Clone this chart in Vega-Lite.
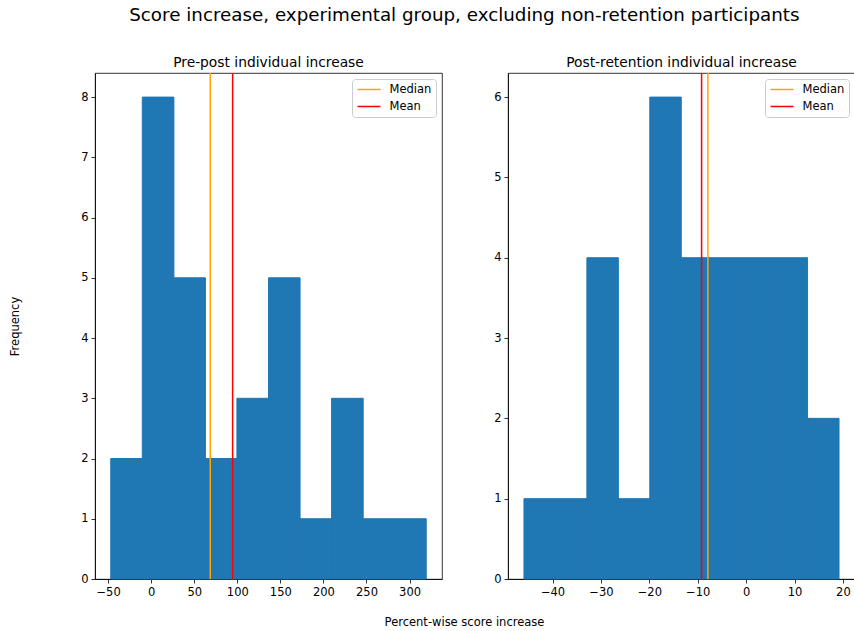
{
  "$schema": "https://vega.github.io/schema/vega-lite/v6.json",
  "background": "white",
  "padding": {"left": 9, "top": 5, "right": 0, "bottom": 5},
  "bounds": "flush",
  "spacing": 66,
  "title": {"text": "Score increase, experimental group, excluding non-retention participants", "fontSize": 18.3, "font": "DejaVu Sans", "fontWeight": "normal", "color": "black", "anchor": "middle", "dx": 32, "offset": 31},
  "datasets": {
    "pre": [
      {"start": -46.9, "end": -10.3, "count": 2},
      {"start": -10.3, "end": 26.4, "count": 8},
      {"start": 26.4, "end": 63.0, "count": 5},
      {"start": 63.0, "end": 99.6, "count": 2},
      {"start": 99.6, "end": 136.3, "count": 3},
      {"start": 136.3, "end": 172.9, "count": 5},
      {"start": 172.9, "end": 209.5, "count": 1},
      {"start": 209.5, "end": 246.2, "count": 3},
      {"start": 246.2, "end": 282.8, "count": 1},
      {"start": 282.8, "end": 319.4, "count": 1}
    ],
    "post": [
      {"start": -45.9, "end": -39.4, "count": 1},
      {"start": -39.4, "end": -32.9, "count": 1},
      {"start": -32.9, "end": -26.4, "count": 4},
      {"start": -26.4, "end": -19.9, "count": 1},
      {"start": -19.9, "end": -13.4, "count": 6},
      {"start": -13.4, "end": -6.8, "count": 4},
      {"start": -6.8, "end": -0.3, "count": 4},
      {"start": -0.3, "end": 6.2, "count": 4},
      {"start": 6.2, "end": 12.7, "count": 4},
      {"start": 12.7, "end": 19.2, "count": 2}
    ],
    "preStats": [
      {"stat": "Median", "value": 68.6},
      {"stat": "Mean", "value": 94.6}
    ],
    "postStats": [
      {"stat": "Median", "value": -7.9},
      {"stat": "Mean", "value": -9.2}
    ]
  },
  "config": {
    "font": "DejaVu Sans",
    "view": {"stroke": "black", "strokeWidth": 0.8},
    "axis": {"grid": false, "domainColor": "black", "domainWidth": 0.8, "tickColor": "black", "tickWidth": 0.8, "tickSize": 4, "labelFontSize": 11.5, "labelColor": "black", "labelPadding": 3, "titleFontSize": 11.5, "titleFontWeight": "normal", "titleColor": "black", "labelFont": "DejaVu Sans", "titleFont": "DejaVu Sans", "labelExpr": "replace(datum.label, '-', '−')"},
    "title": {"fontSize": 13.8, "fontWeight": "normal", "color": "black", "font": "DejaVu Sans", "offset": 2},
    "legend": {"orient": "top-right", "offset": 6, "fillColor": "white", "strokeColor": "#cccccc", "cornerRadius": 3, "padding": 4.5, "labelFontSize": 11.5, "labelColor": "black", "labelFont": "DejaVu Sans", "symbolType": "stroke", "symbolSize": 529, "symbolStrokeWidth": 1.5, "clipHeight": 12, "rowPadding": 5, "labelOffset": 8}
  },
  "resolve": {"scale": {"color": "independent"}, "legend": {"color": "independent"}},
  "hconcat": [
    {
      "width": 347,
      "height": 506,
      "title": "Pre-post individual increase",
      "layer": [
        {
          "data": {"name": "pre"},
          "mark": {"type": "bar", "color": "#1f77b4", "stroke": "#1f77b4", "strokeWidth": 1},
          "encoding": {
            "x": {"field": "start", "type": "quantitative", "scale": {"domain": [-65.2, 337.7], "nice": false, "zero": false}, "axis": {"values": [-50, 0, 50, 100, 150, 200, 250, 300], "title": "Percent-wise score increase", "titleX": 369, "titleAlign": "center", "titlePadding": 19}},
            "x2": {"field": "end"},
            "y": {"field": "count", "type": "quantitative", "scale": {"domain": [0, 8.4], "nice": false}, "axis": {"values": [0, 1, 2, 3, 4, 5, 6, 7, 8], "title": "Frequency", "titlePadding": 60}},
            "y2": {"datum": 0}
          }
        },
        {
          "data": {"name": "preStats"},
          "mark": {"type": "rule", "strokeWidth": 1.5},
          "encoding": {
            "x": {"field": "value", "type": "quantitative"},
            "color": {"field": "stat", "type": "nominal", "scale": {"domain": ["Median", "Mean"], "range": ["orange", "red"]}, "legend": {"title": null}}
          }
        }
      ]
    },
    {
      "width": 347,
      "height": 506,
      "title": "Post-retention individual increase",
      "layer": [
        {
          "data": {"name": "post"},
          "mark": {"type": "bar", "color": "#1f77b4", "stroke": "#1f77b4", "strokeWidth": 1},
          "encoding": {
            "x": {"field": "start", "type": "quantitative", "scale": {"domain": [-49.2, 22.5], "nice": false, "zero": false}, "axis": {"values": [-40, -30, -20, -10, 0, 10, 20], "title": null}},
            "x2": {"field": "end"},
            "y": {"field": "count", "type": "quantitative", "scale": {"domain": [0, 6.3], "nice": false}, "axis": {"values": [0, 1, 2, 3, 4, 5, 6], "title": null}},
            "y2": {"datum": 0}
          }
        },
        {
          "data": {"name": "postStats"},
          "mark": {"type": "rule", "strokeWidth": 1.5},
          "encoding": {
            "x": {"field": "value", "type": "quantitative"},
            "color": {"field": "stat", "type": "nominal", "scale": {"domain": ["Median", "Mean"], "range": ["orange", "red"]}, "legend": {"title": null}}
          }
        }
      ]
    }
  ]
}
